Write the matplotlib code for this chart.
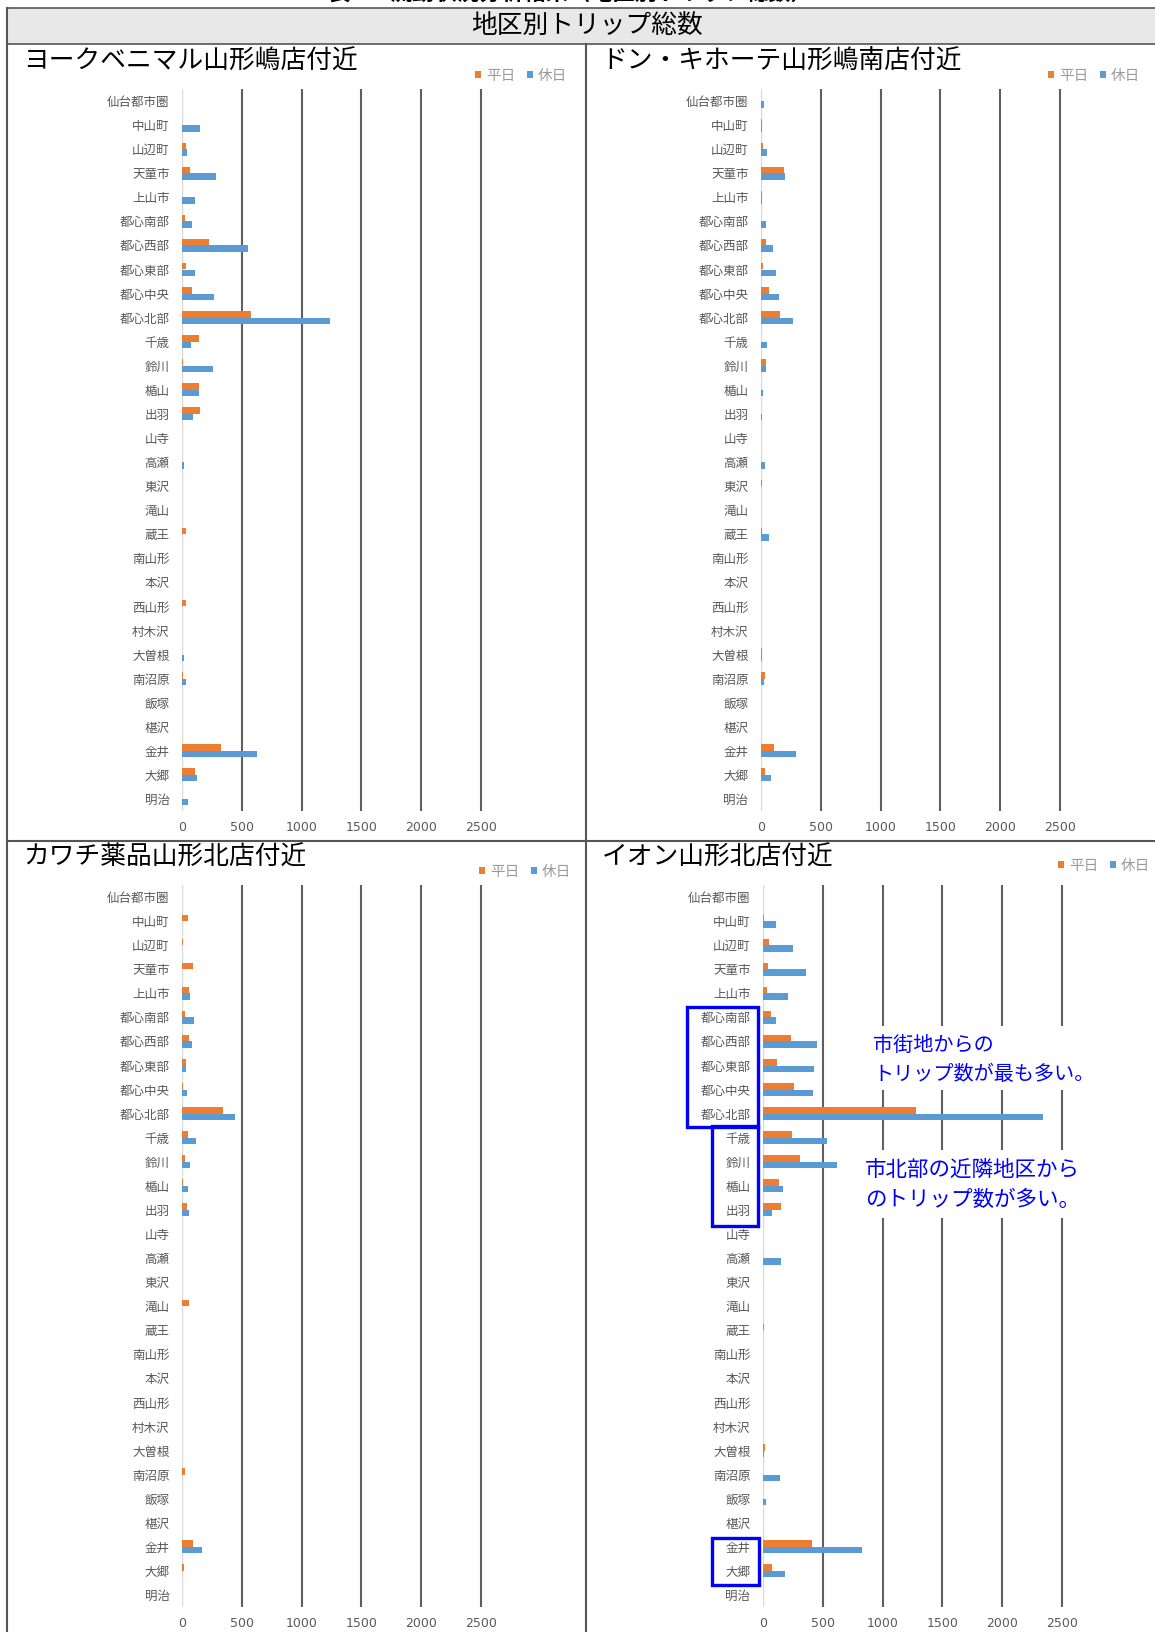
import numpy as np
import matplotlib
matplotlib.use("Agg")
import matplotlib.pyplot as plt
from matplotlib.lines import Line2D
from matplotlib.patches import Rectangle

plt.rcParams['font.family'] = ['Noto Sans CJK JP', 'DejaVu Sans']

# categories (top to bottom)
districts = ["仙台都市圏", "中山町", "山辺町", "天童市", "上山市", "都心南部", "都心西部",
             "都心東部", "都心中央", "都心北部", "千歳", "鈴川", "楯山", "出羽", "山寺",
             "高瀬", "東沢", "滝山", "蔵王", "南山形", "本沢", "西山形", "村木沢", "大曽根",
             "南沼原", "飯塚", "椹沢", "金井", "大郷", "明治"]

titles = ["ヨークベニマル山形嶋店付近", "ドン・キホーテ山形嶋南店付近",
          "カワチ薬品山形北店付近", "イオン山形北店付近"]
series_names = ["平日", "休日"]
xticks = [0, 500, 1000, 1500, 2000, 2500]

# ヨークベニマル山形嶋店付近
york_weekday = [0, 0, 31, 71, 0, 25, 229, 31, 83, 581, 145, 12, 142, 148, 0,
                0, 0, 0, 31, 0, 0, 37, 0, 0, 9, 0, 0, 324, 105, 0]
york_holiday = [0, 151, 40, 281, 111, 80, 553, 105, 266, 1239, 74, 260, 139, 90, 0,
                19, 0, 0, 0, 0, 0, 0, 0, 15, 37, 0, 0, 630, 127, 53]
# ドン・キホーテ山形嶋南店付近
donki_weekday = [0, 9, 19, 192, 12, 0, 43, 19, 71, 158, 0, 40, 0, 0, 0,
                 0, 6, 0, 9, 0, 0, 0, 0, 9, 34, 0, 0, 111, 31, 0]
donki_holiday = [28, 9, 49, 204, 6, 43, 99, 127, 148, 266, 53, 43, 19, 6, 0,
                 34, 0, 0, 71, 0, 0, 0, 0, 9, 22, 0, 0, 290, 80, 0]
# カワチ薬品山形北店付近
kawachi_weekday = [0, 46, 12, 90, 56, 22, 62, 34, 9, 343, 46, 25, 6, 43, 0,
                   0, 0, 56, 0, 0, 0, 0, 0, 0, 22, 0, 0, 90, 19, 0]
kawachi_holiday = [0, 0, 0, 0, 68, 102, 87, 31, 43, 439, 121, 65, 46, 56, 0,
                   0, 0, 0, 0, 0, 0, 0, 0, 0, 0, 0, 0, 170, 0, 0]
# イオン山形北店付近
aeon_weekday = [0, 12, 53, 43, 37, 65, 235, 121, 260, 1282, 241, 306, 130, 151, 0,
                0, 0, 0, 12, 0, 0, 0, 0, 15, 0, 0, 0, 408, 74, 0]
aeon_holiday = [0, 108, 250, 362, 207, 111, 454, 426, 417, 2345, 531, 615, 170, 77, 0,
                148, 0, 0, 0, 0, 0, 0, 0, 6, 145, 28, 0, 828, 185, 0]

W, H = 1155, 1632
ORANGE = '#ED7D31'
BLUE = '#5B9BD5'
GRAY = '#595959'
XMAX = 2800
PX_PER_UNIT = 59.8 / 500


def fx(px):
    return px / W


def fy(py):
    return 1 - py / H


fig = plt.figure(figsize=(W / 100, H / 100), dpi=100)


def panel(left, top, bottom, title, title_x, title_y, leg_x, leg_y, weekday, holiday):
    width = XMAX * PX_PER_UNIT
    ax = fig.add_axes([fx(left), fy(bottom), width / W, (bottom - top) / H])
    y = np.arange(len(districts))
    h = 0.27
    b1 = ax.barh(y - h / 2, weekday, height=h, color=ORANGE, label=series_names[0], zorder=3)
    b2 = ax.barh(y + h / 2, holiday, height=h, color=BLUE, label=series_names[1], zorder=3)
    ax.set_xlim(0, XMAX)
    ax.set_ylim(len(districts) - 0.5, -0.5)
    ax.set_yticks(y)
    ax.set_yticklabels(districts)
    ax.set_xticks(xticks)
    ax.set_xticklabels([str(t) for t in xticks], family=['Liberation Sans Narrow', 'DejaVu Sans'])
    ax.tick_params(axis='y', length=0, pad=9, labelsize=9, labelcolor=GRAY)
    ax.tick_params(axis='x', length=0, pad=7, labelsize=9, labelcolor=GRAY)
    for s in ax.spines.values():
        s.set_visible(False)
    ax.axvline(0, color='#D9D9D9', lw=1, zorder=2)
    for t in xticks[1:]:
        ax.axvline(t, color='#5f5f5f', lw=1.5, zorder=1)
    fig.text(fx(title_x), fy(title_y), title, fontsize=18.5, color='black', va='center', ha='left')
    ax.legend(handles=[b1, b2], loc='center left', bbox_to_anchor=(fx(leg_x), fy(leg_y)),
              bbox_transform=fig.transFigure, ncol=2, frameon=False, fontsize=10.5,
              handlelength=0.4, handleheight=0.4, handletextpad=0.35, columnspacing=0.8,
              labelcolor='#9a9a9a', borderpad=0, borderaxespad=0)
    return ax


panel(182, 89, 811, titles[0], 23, 62, 475, 76, york_weekday, york_holiday)
panel(761, 89, 811, titles[1], 601, 62, 1048, 76, donki_weekday, donki_holiday)
panel(182, 885, 1607, titles[2], 23, 858, 479, 872, kawachi_weekday, kawachi_holiday)
panel(763, 885, 1607, titles[3], 602, 858, 1058, 866, aeon_weekday, aeon_holiday)

# table frame
fig.patches.append(Rectangle((fx(7), fy(44)), fx(1160) - fx(7), (44 - 8) / H,
                             transform=fig.transFigure, facecolor='#E8E8E8',
                             edgecolor='#555555', lw=1.2, zorder=0))
fig.text(fx(587), fy(26), "地区別トリップ総数", fontsize=18.5, ha='center', va='center')
fig.text(fx(570), fy(5), "表4-3 流動状況分析結果（地区別トリップ総数）", fontsize=16,
         ha='center', va='bottom', fontweight='bold')
for xs, ys in [((7, 7), (8, 1640)), ((586, 586), (44, 1640)), ((7, 1160), (841, 841))]:
    fig.add_artist(Line2D([fx(v) for v in xs], [fy(v) for v in ys], color='#555555',
                          lw=1.5, transform=fig.transFigure))

# annotations in the イオン panel
for (x0, y0, x1, y1) in [(862, 1026, 1100, 1090), (855, 1150, 1095, 1218)]:
    fig.patches.append(Rectangle((fx(x0), fy(y1)), (x1 - x0) / W, (y1 - y0) / H,
                                 transform=fig.transFigure, facecolor='white',
                                 edgecolor='none', zorder=2))
fig.text(fx(873), fy(1045), "市街地からの", fontsize=14.5, color='#0000FF', va='center', zorder=4)
fig.text(fx(873), fy(1075), "トリップ数が最も多い。", fontsize=14.5, color='#0000FF', va='center', zorder=4)
fig.text(fx(865), fy(1170), "市北部の近隣地区から", fontsize=15.5, color='#0000FF', va='center', zorder=4)
fig.text(fx(865), fy(1200), "のトリップ数が多い。", fontsize=15.5, color='#0000FF', va='center', zorder=4)

for (x0, y0, x1, y1) in [(687, 1007, 758, 1127), (712, 1126, 758, 1226), (712, 1538, 759, 1585)]:
    fig.patches.append(Rectangle((fx(x0), fy(y1)), (x1 - x0) / W, (y1 - y0) / H,
                                 transform=fig.transFigure, facecolor='none',
                                 edgecolor='#0000FF', lw=2.4, zorder=5))

fig.savefig("out.png", dpi=100)
